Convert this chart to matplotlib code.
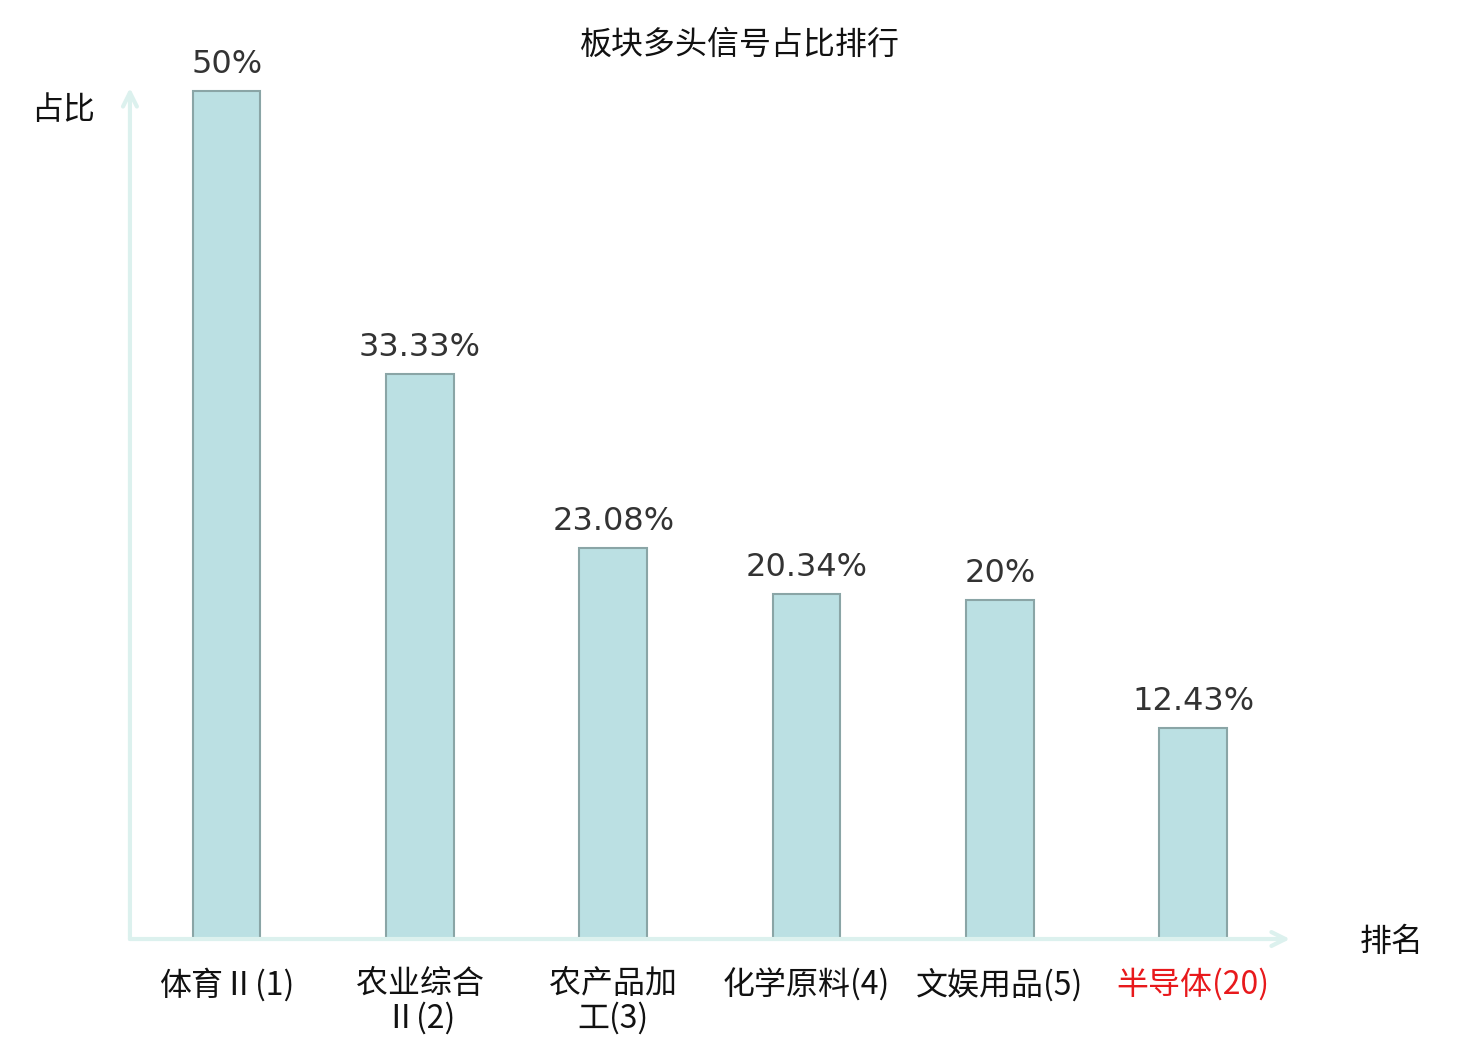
import matplotlib
matplotlib.use('Agg')
import matplotlib.pyplot as plt
import numpy as np

plt.rcParams['font.family'] = ['Noto Sans CJK SC', 'DejaVu Sans']

# 数据
categories = ['体育Ⅱ(1)', '农业综合\nⅡ(2)', '农产品加\n工(3)', '化学原料(4)', '文娱用品(5)', '半导体(20)']
values = [50, 33.33, 23.08, 20.34, 20, 12.43]
value_labels = ['50%', '33.33%', '23.08%', '20.34%', '20%', '12.43%']
label_colors = ['#111111', '#111111', '#111111', '#111111', '#111111', '#e8191c']


def main():
    fig = plt.figure(figsize=(14.8, 10.4), dpi=100)
    ax = fig.add_axes([0.0878, 0.0971, 0.7838, 0.8183])

    x = np.arange(len(categories))
    ax.bar(x, values, width=0.35, color='#bbe0e3', edgecolor='#8aa5a6', linewidth=1.5, zorder=3)

    # 柱顶数值
    for xi, v, s in zip(x, values, value_labels):
        ax.annotate(s, (xi, v), xytext=(0, 8), textcoords='offset points',
                    ha='center', va='bottom', fontsize=23, color='#333333',
                    family=['DejaVu Sans'])

    ax.set_xlim(-0.5, 5.5)
    ax.set_ylim(0, 50.2)

    for sp in ax.spines.values():
        sp.set_visible(False)
    ax.set_yticks([])
    ax.set_xticks(x)
    ax.set_xticklabels(categories, fontsize=23, linespacing=1.05)
    for lbl, c in zip(ax.get_xticklabels(), label_colors):
        lbl.set_color(c)
    ax.tick_params(axis='x', length=0, pad=21)

    # 带箭头的坐标轴
    axis_color = '#dcf1ee'
    ax.annotate('', xy=(1.0, 0), xytext=(0, 0), xycoords='axes fraction',
                arrowprops=dict(arrowstyle='->,head_length=1.0,head_width=0.5',
                                color=axis_color, lw=3, shrinkA=0, shrinkB=0))
    ax.annotate('', xy=(0, 1.0), xytext=(0, 0), xycoords='axes fraction',
                arrowprops=dict(arrowstyle='->,head_length=1.0,head_width=0.5',
                                color=axis_color, lw=3, shrinkA=0, shrinkB=0))

    fig.text(0.5, 0.957, '板块多头信号占比排行', ha='center', va='center', fontsize=23, color='#111111')
    fig.text(0.0426, 0.894, '占比', ha='center', va='center', fontsize=23, color='#111111')
    fig.text(0.940, 0.094, '排名', ha='center', va='center', fontsize=23, color='#111111')

    fig.savefig('out.png', dpi=100)


if __name__ == '__main__':
    main()
